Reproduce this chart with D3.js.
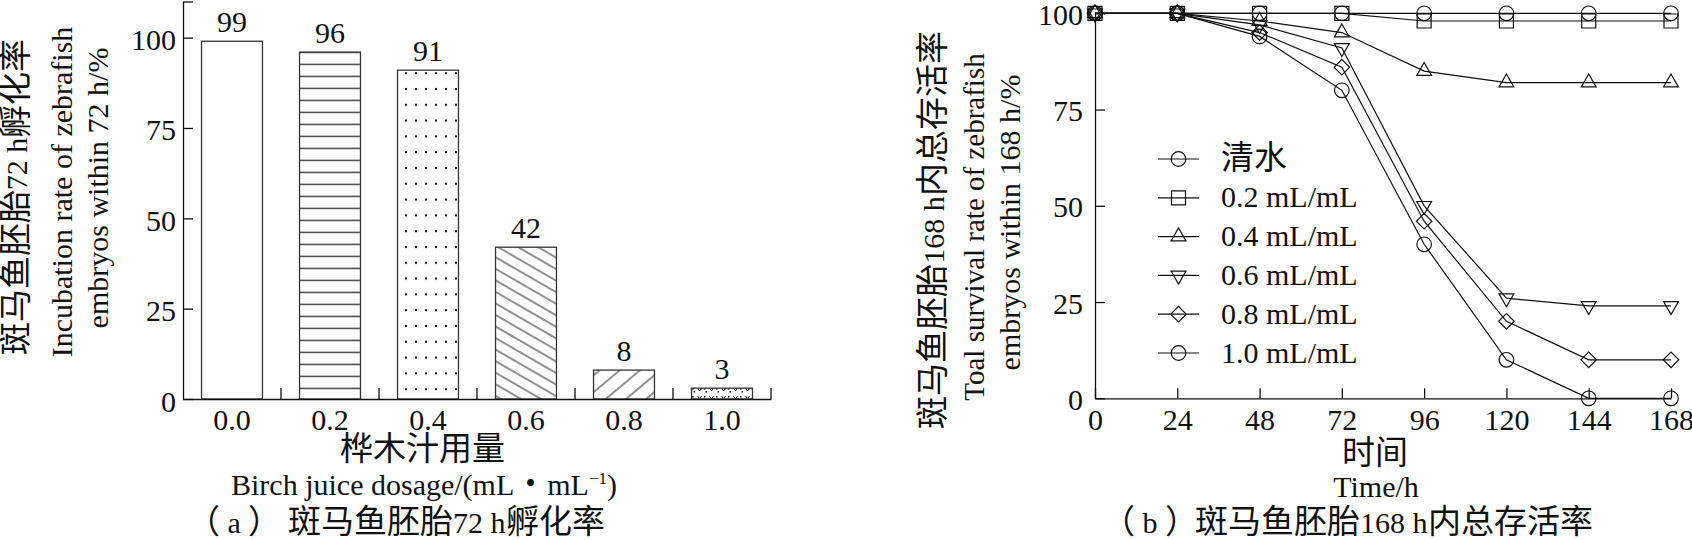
<!DOCTYPE html>
<html><head><meta charset="utf-8">
<script src="https://cdn.jsdelivr.net/npm/d3@7"></script>
<style>
@font-face{font-family:"CJKX";src:local("Noto Sans CJK SC"),local("Noto Sans CJK SC Regular"),local("NotoSansCJKsc-Regular");size-adjust:110%;}
body{margin:0;background:#fff;}
svg text{font-family:"Liberation Serif","Times New Roman","CJKX","Noto Sans CJK SC",serif;fill:#111;font-size:30px;}
</style></head><body>
<svg id="chart" width="1692" height="540"></svg>
<script>
// ---------- data: chart (a) ----------
const dosageCategories = ["0.0","0.2","0.4","0.6","0.8","1.0"];
const hatchRates = [99,96,91,42,8,3];
const hatchTicks = [0,25,50,75,100,110];
const barPatterns = ["none","hlines","dots","bdiag","fdiag","vmarks"];

// ---------- data: chart (b) ----------
const timePoints = [0,24,48,72,96,120,144,168];
const survTicks = [0,25,50,75,100];
const seriesNames = ["清水","0.2 mL/mL","0.4 mL/mL","0.6 mL/mL","0.8 mL/mL","1.0 mL/mL"];
const survWater = [100,100,100,100,100,100,100,100];
const surv02 = [100,100,100,100,98,98,98,98];
const surv04 = [100,100,98,95,85,82,82,82];
const surv06 = [100,100,97,91,50,26,24,24];
const surv08 = [100,100,95,86,46,20,10,10];
const surv10 = [100,100,94,80,40,10,0,0];
const seriesValues = [survWater, surv02, surv04, surv06, surv08, surv10];
const seriesMarkers = ["circle","square","triUp","triDown","diamond","circle"];

const svg = d3.select("#chart");
const ink = "#111";
const defs = svg.append("defs");

// patterns
function pat(id, w, h, transform) {
  const p = defs.append("pattern").attr("id", id).attr("patternUnits","userSpaceOnUse")
    .attr("width", w).attr("height", h);
  if (transform) p.attr("patternTransform", transform);
  p.append("rect").attr("width", w).attr("height", h).attr("fill","#fff");
  return p;
}
pat("hlines", 10, 12, "translate(0,3.7)").append("line").attr("x1",0).attr("x2",10).attr("y1",0.6).attr("y2",0.6)
  .attr("stroke","#222").attr("stroke-width",1.3);
pat("dots", 10, 15.8, "translate(1,3)").append("rect").attr("x",4).attr("y",6).attr("width",2).attr("height",2).attr("fill","#111");
pat("bdiag", 10, 10, "rotate(30)").append("line").attr("x1",0).attr("x2",10).attr("y1",5).attr("y2",5)
  .attr("stroke","#222").attr("stroke-width",1);
pat("fdiag", 10, 13, "rotate(-40)").append("line").attr("x1",0).attr("x2",10).attr("y1",6).attr("y2",6)
  .attr("stroke","#222").attr("stroke-width",1);
const vm = pat("vmarks", 12, 8, "translate(0,2)");
vm.append("path").attr("d","M1.5,2 L3.5,5 L5.5,2").attr("fill","none").attr("stroke","#222").attr("stroke-width",1);
vm.append("rect").attr("x",8).attr("y",2).attr("width",1.6).attr("height",1.6).attr("fill","#222");
vm.append("rect").attr("x",9.5).attr("y",5).attr("width",1.6).attr("height",1.6).attr("fill","#222");

// ================= chart (a) =================
const ya = d3.scaleLinear().domain([0,110]).range([399,1.5]);
const xa = d3.scaleBand().domain(dosageCategories).range([183,771]).paddingInner(0.378).paddingOuter(0.189);
const ga = svg.append("g");

ga.selectAll("rect.bar").data(hatchRates).join("rect").attr("class","bar")
  .attr("x",(d,i)=>xa(dosageCategories[i]))
  .attr("y",d=>ya(d))
  .attr("width",xa.bandwidth())
  .attr("height",d=>ya(0)-ya(d))
  .attr("fill",(d,i)=>barPatterns[i]==="none"?"#fff":`url(#${barPatterns[i]})`)
  .attr("stroke","#333").attr("stroke-width",1.3);

ga.selectAll("text.val").data(hatchRates).join("text").attr("class","val")
  .attr("x",(d,i)=>xa(dosageCategories[i])+xa.bandwidth()/2)
  .attr("y",d=>ya(d)-9.5)
  .attr("text-anchor","middle").text(d=>d);

const yAxisA = ga.append("g").attr("transform",`translate(${xa.range()[0]},0)`)
  .call(d3.axisLeft(ya).tickValues(hatchTicks).tickSize(-10).tickSizeOuter(0).tickPadding(7)
    .tickFormat(d=>d===110?"":d));
const xAxisA = ga.append("g").attr("transform",`translate(0,${ya(0)})`)
  .call(d3.axisBottom(xa).tickSize(0).tickSizeOuter(0).tickPadding(10));
// boundary ticks between categories
xAxisA.selectAll("line.bt").data(dosageCategories).join("line").attr("class","bt")
  .attr("x1",c=>xa(c)+xa.bandwidth()+xa.step()*xa.paddingInner()/2)
  .attr("x2",c=>xa(c)+xa.bandwidth()+xa.step()*xa.paddingInner()/2)
  .attr("y1",0).attr("y2",-11).attr("stroke",ink).attr("stroke-width",1.3);

// axis titles (a)
function vtext(x, y, str, fs) {
  const t = svg.append("text").attr("transform",`translate(${x},${y}) rotate(-90)`)
    .attr("text-anchor","middle").text(str);
  if (fs) t.style("font-size", fs + "px");
  return t;
}
vtext(27,197,"斑马鱼胚胎72 h孵化率");
vtext(72,192,"Incubation rate of zebrafish");
vtext(108,188,"embryos within 72 h/%");
svg.append("text").attr("x",422).attr("y",460).attr("text-anchor","middle").text("桦木汁用量");
const bt = svg.append("text").attr("x",424).attr("y",495).attr("text-anchor","middle");
bt.append("tspan").text("Birch juice dosage/(mL・mL");
bt.append("tspan").attr("dy",-11).style("font-size","17px").text("−1");
bt.append("tspan").attr("dy",11).text(")");
const capA = svg.append("text").attr("y",533);
capA.append("tspan").attr("x",187).text("（ a ）");
capA.append("tspan").attr("x",288).text("斑马鱼胚胎72 h孵化率");

// ================= chart (b) =================
const xb = d3.scaleLinear().domain([0,168]).range([1095,1671]);
const yb = d3.scaleLinear().domain([0,100]).range([398.3,13.3]);
const gb = svg.append("g");

const yAxisB = gb.append("g").attr("transform",`translate(${xb(0)},0)`)
  .call(d3.axisLeft(yb).tickValues(survTicks).tickSize(-10).tickSizeOuter(0).tickPadding(12));
gb.append("g").attr("transform",`translate(0,${yb(0)})`)
  .call(d3.axisBottom(xb).tickValues(timePoints).tickSize(-10).tickSizeOuter(0).tickPadding(10));

function markerPath(type) {
  switch(type) {
    case "circle": return d3.symbol(d3.symbolCircle, Math.PI*7.3*7.3)();
    case "square": return d3.symbol(d3.symbolSquare, 14*14)();
    case "triUp": return d3.symbol(d3.symbolTriangle, 95)();
    case "triDown": return d3.symbol(d3.symbolTriangle, 95)();
    case "diamond": return d3.symbol(d3.symbolSquare, 11*11)();
  }
}
function markerRot(type) {
  return type==="triDown" ? " rotate(180)" : type==="diamond" ? " rotate(45)" : "";
}
const line = d3.line().x((d,i)=>xb(timePoints[i])).y(d=>yb(d));
seriesValues.forEach((vals, s) => {
  const g = gb.append("g");
  g.append("path").attr("d", line(vals)).attr("fill","none").attr("stroke",ink).attr("stroke-width",1.2);
  g.selectAll("path.m").data(vals).join("path").attr("class","m")
    .attr("d", markerPath(seriesMarkers[s]))
    .attr("transform",(d,i)=>`translate(${xb(timePoints[i])},${yb(d)})${markerRot(seriesMarkers[s])}`)
    .attr("fill","none").attr("stroke",ink).attr("stroke-width",1.2);
});

// legend
const lg = gb.append("g");
seriesNames.forEach((name, s) => {
  const y = 159 + s*38.8;
  lg.append("line").attr("x1",1158).attr("x2",1199).attr("y1",y).attr("y2",y).attr("stroke",ink).attr("stroke-width",1.2);
  lg.append("path").attr("d",markerPath(seriesMarkers[s]))
    .attr("transform",`translate(1178.5,${y})${markerRot(seriesMarkers[s])}`)
    .attr("fill","none").attr("stroke",ink).attr("stroke-width",1.2);
  lg.append("text").attr("x",1221).attr("y",y+9.5).text(name);
});

vtext(944,230,"斑马鱼胚胎168 h内总存活率");
vtext(984,227,"Toal survival rate of zebrafish",29);
vtext(1020,222.5,"embryos within 168 h/%");
svg.append("text").attr("x",1375).attr("y",464).attr("text-anchor","middle").text("时间");
svg.append("text").attr("x",1376).attr("y",497).attr("text-anchor","middle").text("Time/h");
const capB = svg.append("text").attr("y",533);
capB.append("tspan").attr("x",1102).text("（ b ）");
capB.append("tspan").attr("x",1195).text("斑马鱼胚胎168 h内总存活率");

// axis styling
svg.selectAll("g").filter(function(){return this.getAttribute("font-family")}).attr("font-family",null).attr("font-size",null);
svg.selectAll(".tick text").style("font-size","30px");
svg.selectAll(".domain, .tick line").attr("stroke",ink).attr("stroke-width",1.3);
yAxisA.selectAll(".tick text").attr("dy","0.4em");
yAxisB.selectAll(".tick text").attr("dy","0.37em");
</script>
</body></html>
